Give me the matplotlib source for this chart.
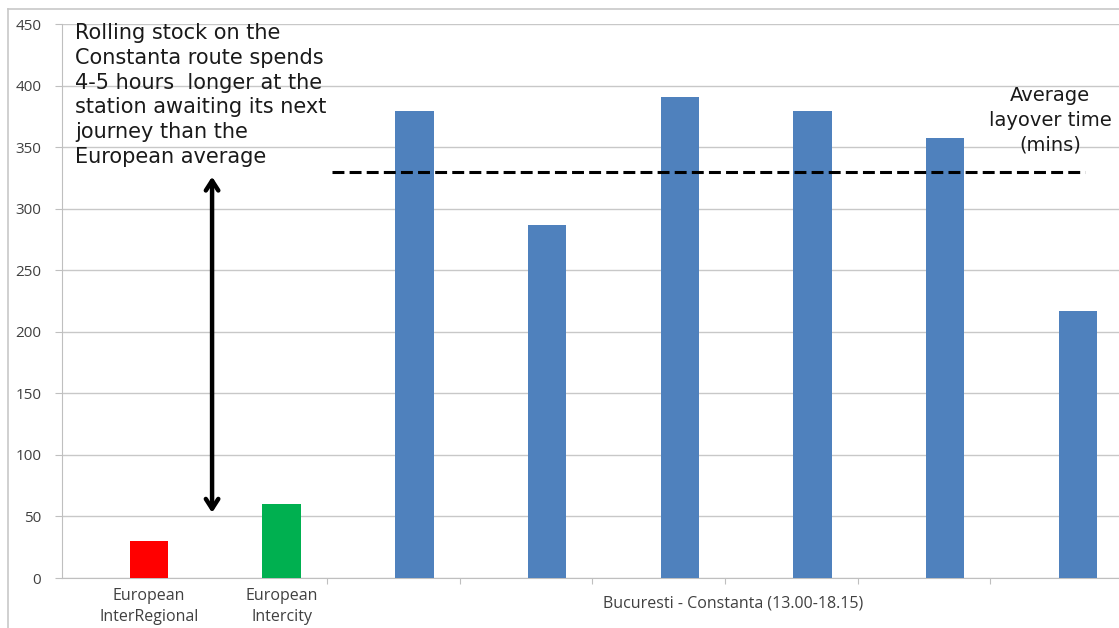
import matplotlib
matplotlib.use("Agg")
import matplotlib.pyplot as plt
from matplotlib.lines import Line2D

# Layover times (minutes)
categories = ["European\nInterRegional", "European\nIntercity",
              "", "", "", "", "", ""]
layover_mins = [30, 60, 379, 287, 391, 379, 357, 217]
bar_colors = ["#ff0000", "#00b050", "#4f81bd", "#4f81bd", "#4f81bd",
              "#4f81bd", "#4f81bd", "#4f81bd"]
group_label = "Bucuresti - Constanta (13.00-18.15)"
average_layover = 330
arrow_span = (53, 326)
y_ticks = [0, 50, 100, 150, 200, 250, 300, 350, 400, 450]

note = ("Rolling stock on the\nConstanta route spends\n4-5 hours  longer at the\n"
        "station awaiting its next\njourney than the\nEuropean average")
avg_note = "Average\nlayover time\n(mins)"

W, H = 1119, 628
fig = plt.figure(figsize=(W / 100, H / 100), dpi=100)
ax = fig.add_axes([62 / W, (H - 578) / H, 1 - 62 / W, 554 / H])

x = list(range(len(layover_mins)))
ax.bar(x, layover_mins, width=0.29, color=bar_colors, zorder=3)

ax.set_xlim(-0.656, 7.31)
ax.set_ylim(0, 450)
ax.set_yticks(y_ticks)
ax.set_yticklabels([str(v) for v in y_ticks], family="Open Sans", fontsize=11,
                   color="#404040")
ax.tick_params(axis="y", length=5, color="#bfbfbf", pad=10)
ax.grid(axis="y", color="#c8c8c8", linewidth=1, zorder=0)

# category ticks along the baseline
tick_pos = [i + 0.34 for i in range(1, 7)]
ax.set_xticks(tick_pos)
ax.set_xticklabels([""] * len(tick_pos))
ax.tick_params(axis="x", length=4, color="#bfbfbf", direction="out")

for xi, lab in zip(x, categories):
    if lab:
        ax.text(xi, -8, lab, ha="center", va="top", family="Open Sans",
                fontsize=11.5, color="#404040", linespacing=1.45)
ax.text(4.4, -14, group_label, ha="center", va="top", family="Open Sans",
        fontsize=11.5, color="#404040")

for side in ("top", "right"):
    ax.spines[side].set_visible(False)
for side in ("left", "bottom"):
    ax.spines[side].set_color("#bfbfbf")

# average layover line
ax.plot([1.38, 7.05], [average_layover, average_layover], color="black",
        linestyle=(0, (3.9, 1.7)), linewidth=2.2, zorder=4)

# double-headed arrow
ax.annotate("", xy=(0.475, arrow_span[0]), xytext=(0.475, arrow_span[1]),
            arrowprops=dict(arrowstyle="<->,head_length=0.7,head_width=0.45",
                            color="black", lw=3.2, shrinkA=0, shrinkB=0),
            zorder=5)

fig.text(75 / W, 1 - 23 / H, note, ha="left", va="top",
         family="DejaVu Sans", fontsize=15, color="#1a1a1a",
         linespacing=1.3)
fig.text(1050 / W, 1 - 86 / H, avg_note, ha="center", va="top",
         family="DejaVu Sans", fontsize=14, color="#1a1a1a",
         linespacing=1.38)

# outer chart frame
fig.add_artist(Line2D([8 / W, 1], [1 - 9 / H, 1 - 9 / H],
                      transform=fig.transFigure, color="#c8c8c8", lw=1.2))
fig.add_artist(Line2D([8 / W, 8 / W], [0, 1 - 9 / H],
                      transform=fig.transFigure, color="#c8c8c8", lw=1.2))

fig.savefig("out.png", dpi=100, facecolor="white")
